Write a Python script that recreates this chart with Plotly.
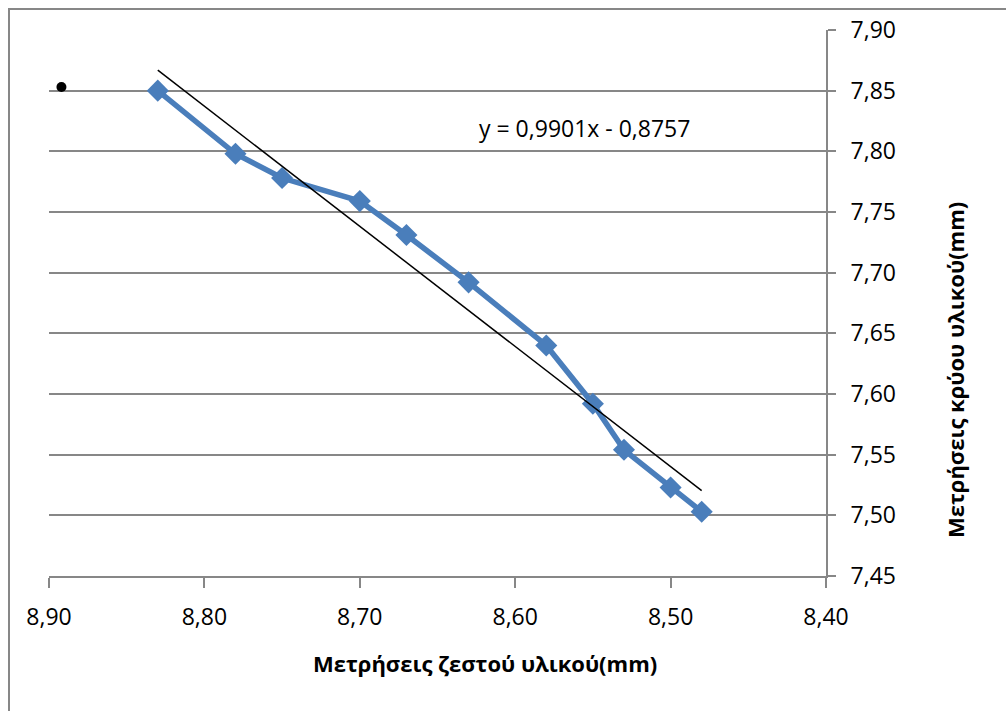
import plotly.graph_objects as go

# Measurements: hot material (x) vs cold material (y), in mm
hot_mm = [8.83, 8.78, 8.75, 8.70, 8.67, 8.63, 8.58, 8.55, 8.53, 8.50, 8.48]
cold_mm = [7.850, 7.798, 7.778, 7.759, 7.731, 7.692, 7.640, 7.592, 7.554, 7.523, 7.503]

# Stray single point
extra_x = [8.892]
extra_y = [7.853]

# Linear trend line coefficients
slope = 0.9901
intercept = -0.8757
trend_x = [max(hot_mm), min(hot_mm)]
trend_y = [slope * v + intercept for v in trend_x]
equation = "y = 0,9901x - 0,8757"

x_ticks = [8.90, 8.80, 8.70, 8.60, 8.50, 8.40]
y_ticks = [7.45, 7.50, 7.55, 7.60, 7.65, 7.70, 7.75, 7.80, 7.85, 7.90]

W, H = 1006, 711
ML, MR, MT, MB = 49, 180, 30, 135
PW, PH = W - ML - MR, H - MT - MB

def px_x(p):
    return (p - ML) / PW

def px_y(p):
    return (H - MB - p) / PH

font_family = "Open Sans, DejaVu Sans, sans-serif"
grey = "#878787"

fig = go.Figure()

fig.add_trace(go.Scatter(
    x=hot_mm, y=cold_mm, mode="lines+markers",
    line=dict(color="#4A7EBB", width=5.5),
    marker=dict(symbol="diamond", size=17, color="#4A7EBB"),
    showlegend=False, hoverinfo="x+y",
))

fig.add_trace(go.Scatter(
    x=trend_x, y=trend_y, mode="lines",
    line=dict(color="black", width=1.5),
    showlegend=False, hoverinfo="skip",
))

fig.add_trace(go.Scatter(
    x=extra_x, y=extra_y, mode="markers",
    marker=dict(symbol="circle", size=10, color="black"),
    showlegend=False,
))

fig.update_layout(
    width=W, height=H,
    margin=dict(l=ML, r=MR, t=MT, b=MB),
    paper_bgcolor="white", plot_bgcolor="white",
    separators=",.",
    font=dict(family=font_family, size=23, color="black"),
    xaxis=dict(
        range=[8.90, 8.40], autorange=False,
        tickvals=x_ticks, tickformat=".2f",
        showgrid=False, zeroline=False,
        showline=True, linecolor=grey, linewidth=2,
        ticks="outside", ticklen=10, tickwidth=2, tickcolor=grey,
        tickfont=dict(size=23), ticklabelstandoff=9,
    ),
    yaxis=dict(
        range=[7.45, 7.90], autorange=False, side="right",
        tickvals=y_ticks, tickformat=".2f",
        showgrid=True, gridcolor=grey, gridwidth=1.5,
        zeroline=False,
        showline=True, linecolor=grey, linewidth=2,
        ticks="outside", ticklen=8, tickwidth=2, tickcolor=grey,
        tickfont=dict(size=23), ticklabelstandoff=10,
    ),
    annotations=[
        dict(text=equation, x=8.5554, y=7.8195, xref="x", yref="y",
             xanchor="center", yanchor="middle",
             showarrow=False, font=dict(size=23)),
        dict(text="<b>Μετρήσεις ζεστού υλικού(mm)</b>",
             x=px_x(485), y=px_y(663), xref="paper", yref="paper",
             xanchor="center", yanchor="middle",
             showarrow=False, font=dict(size=22)),
        dict(text="<b>Μετρήσεις κρύου υλικού(mm)</b>",
             x=px_x(955), y=px_y(370), xref="paper", yref="paper",
             xanchor="center", yanchor="middle",
             textangle=-90, showarrow=False, font=dict(size=22)),
    ],
    shapes=[
        dict(type="rect", xref="paper", yref="paper",
             x0=px_x(9), x1=px_x(1030), y0=px_y(740), y1=px_y(9),
             line=dict(color=grey, width=2), layer="below"),
    ],
)

fig.write_html("out.html")
